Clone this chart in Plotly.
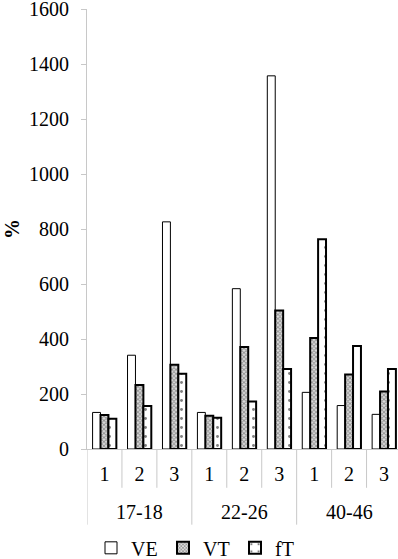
import plotly.graph_objects as go

groups = ["17-18", "17-18", "17-18", "22-26", "22-26", "22-26", "40-46", "40-46", "40-46"]
subcats = ["1", "2", "3", "1", "2", "3", "1", "2", "3"]
ve = [133, 341, 826, 133, 583, 1357, 206, 158, 126]
vt = [124, 233, 306, 121, 371, 504, 404, 271, 209]
ft = [110, 156, 274, 114, 173, 291, 763, 375, 291]
y_ticks = [0, 200, 400, 600, 800, 1000, 1200, 1400, 1600]

FONT = "Liberation Serif"
FS = 20
AXC = "#c8c8c8"
xpos = list(range(len(subcats)))

fig = go.Figure()
fig.add_trace(go.Bar(
    x=xpos, y=ve, name="VE",
    marker=dict(color="white", line=dict(color="black", width=1)),
))
fig.add_trace(go.Bar(
    x=xpos, y=vt, name="VT",
    marker=dict(color="white", line=dict(color="black", width=2),
                pattern=dict(shape="x", fgcolor="#444444", bgcolor="#dddddd",
                             size=3, solidity=0.5)),
))
fig.add_trace(go.Bar(
    x=xpos, y=ft, name="fT",
    marker=dict(color="white", line=dict(color="black", width=2),
                pattern=dict(shape=".", fgcolor="black", bgcolor="white",
                             size=9, solidity=0.08)),
))

# category boundary separators and group labels (axis decoration)
shapes = []
annotations = []
for i in range(len(subcats) + 1):
    b = i - 0.5
    is_group_edge = (i == 0 or i == len(subcats) or groups[i] != groups[i - 1])
    shapes.append(dict(type="line", xref="x", yref="paper", x0=b, x1=b,
                       y0=0, y1=-0.172 if is_group_edge else -0.0882,
                       line=dict(color=AXC, width=1)))
seen = []
for g in groups:
    if g not in seen:
        seen.append(g)
for g in seen:
    idx = [i for i, gg in enumerate(groups) if gg == g]
    annotations.append(dict(x=sum(idx) / len(idx), y=-0.1425, xref="x", yref="paper",
                            text=g, showarrow=False, yanchor="middle",
                            font=dict(family=FONT, size=FS, color="black")))

fig.update_layout(
    width=398, height=559,
    margin=dict(l=87, r=0, t=9, b=110),
    paper_bgcolor="white", plot_bgcolor="white",
    barmode="group", bargap=0.32, bargroupgap=0,
    font=dict(family=FONT, size=FS, color="black"),
    showlegend=True,
    legend=dict(orientation="h", xref="container", yref="container",
                x=0.5, xanchor="center", y=0.02, yanchor="middle",
                font=dict(size=FS, family=FONT), itemwidth=30, entrywidth=27,
                entrywidthmode="pixels", tracegroupgap=0),
    shapes=shapes,
    annotations=annotations,
    xaxis=dict(range=[-0.5, 8.4], tickvals=xpos, ticktext=subcats,
               showline=True, linecolor=AXC, linewidth=1,
               ticks="", ticklabelstandoff=7, automargin=False,
               tickfont=dict(size=FS, family=FONT), showgrid=False, zeroline=False),
    yaxis=dict(range=[0, 1600], tickvals=y_ticks,
               showline=True, linecolor=AXC, linewidth=1,
               ticks="outside", ticklen=5, tickcolor=AXC,
               showgrid=False, zeroline=False, automargin=False,
               ticklabelstandoff=8, ticklabeloverflow="allow",
               tickfont=dict(size=FS, family=FONT),
               title=dict(text="<b>%</b>", standoff=4,
                          font=dict(size=FS, family=FONT))),
)

fig.write_html("out.html", config={"displayModeBar": False},
               post_script="document.body.style.margin='0';document.body.style.padding='0';")
